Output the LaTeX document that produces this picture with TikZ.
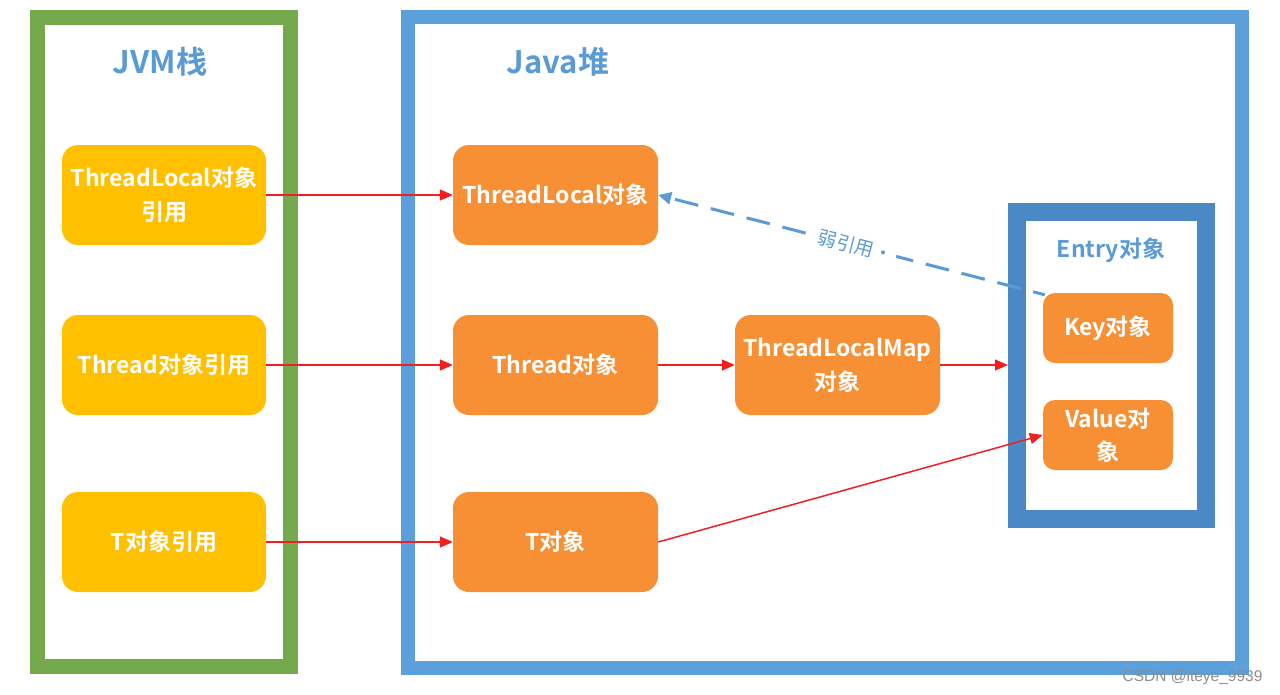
\documentclass[tikz,border=0pt]{standalone}
\usepackage{fontspec}
\setmainfont{Noto Sans CJK SC}[BoldFont={* Bold}]
\newfontfamily\wmfont{Liberation Sans}
\usetikzlibrary{arrows.meta}
\definecolor{stackgreen}{HTML}{74AA4D}
\definecolor{heapblue}{HTML}{5B9FDB}
\definecolor{entryblue}{HTML}{4A89C4}
\definecolor{titleblue}{HTML}{5B9BD5}
\definecolor{refyellow}{HTML}{FFC000}
\definecolor{objorange}{HTML}{F79035}
\definecolor{arrowred}{HTML}{F0201E}
\tikzset{
  boxfont/.style={font=\bfseries\fontsize{23}{34}\selectfont},
  refbox/.style={rectangle, rounded corners=16pt, fill=refyellow, text=white,
    boxfont, minimum width=204pt, minimum height=100pt, align=center, inner sep=0pt},
  objbox/.style={rectangle, rounded corners=16pt, fill=objorange, text=white,
    boxfont, minimum width=205pt, minimum height=100pt, align=center, inner sep=0pt},
  smallbox/.style={rectangle, rounded corners=12pt, fill=objorange, text=white,
    font=\bfseries\fontsize{23}{33}\selectfont, minimum width=130pt, minimum height=70pt,
    align=center, inner sep=0pt},
  title/.style={text=titleblue, font=\bfseries\fontsize{31}{36}\selectfont},
  strong/.style={draw=arrowred, line width=1.5pt, -{Triangle[length=13pt,width=11pt]}},
  weak/.style={draw=titleblue, line width=3pt, dash pattern=on 24pt off 13pt, dash phase=12pt,
    -{Triangle[length=13pt,width=12pt]}},
}
\begin{document}
\begin{tikzpicture}[x=1pt,y=-1pt]
\useasboundingbox (0,0) rectangle (1280,694);
% frames
\draw[stackgreen, line width=15pt] (37.5,17) rectangle (290,666);
\draw[heapblue, line width=14pt] (408,17) rectangle (1242,668);
\node[title] (jvm) at (160,62) {JVM栈};
\node[title] (heap) at (558,62) {Java堆};
% stack refs
\node[refbox] (tlref) at (164,195) {ThreadLocal对象\\引用};
\node[refbox] (thref) at (164,365) {Thread对象引用};
\node[refbox] (tref) at (164,542) {T对象引用};
% heap objects
\node[objbox] (tlobj) at (555.5,195) {ThreadLocal对象};
\node[objbox] (thobj) at (555.5,365) {Thread对象};
\node[objbox] (tobj) at (555.5,542) {T对象};
\node[objbox] (map) at (837.5,365) {ThreadLocalMap\\对象};
% entry
\draw[entryblue, line width=18pt] (1017,212) rectangle (1206,519);
\coordinate (entryL) at (1008,365);
\node[text=titleblue, font=\bfseries\fontsize{23}{28}\selectfont] (entry) at (1111,250) {Entry对象};
\node[smallbox] (key) at (1108,328) {Key对象};
\node[smallbox] (val) at (1108,435) {Value对\\象};
% arrows
\draw[strong] (tlref.east) -- (tlobj.west);
\draw[strong] (thref.east) -- (thobj.west);
\draw[strong] (tref.east) -- (tobj.west);
\draw[strong] (thobj.east) -- (map.west);
\draw[strong] (map.east) -- (entryL);
\draw[strong] (tobj.east) -- (val.west);
\draw[weak] ([xshift=2pt,yshift=-2pt]key.north west) -- (tlobj.east)
  node[pos=0.49, sloped, text=titleblue, font=\fontsize{19}{22}\selectfont, fill=white, inner sep=4pt] (weaklbl) {弱引用·};
% watermark
\node[text=black!45, font=\wmfont\fontsize{15.5}{18}\selectfont, anchor=east] (wm) at (1266,677) {CSDN @iteye\_9939};
\end{tikzpicture}
\end{document}
